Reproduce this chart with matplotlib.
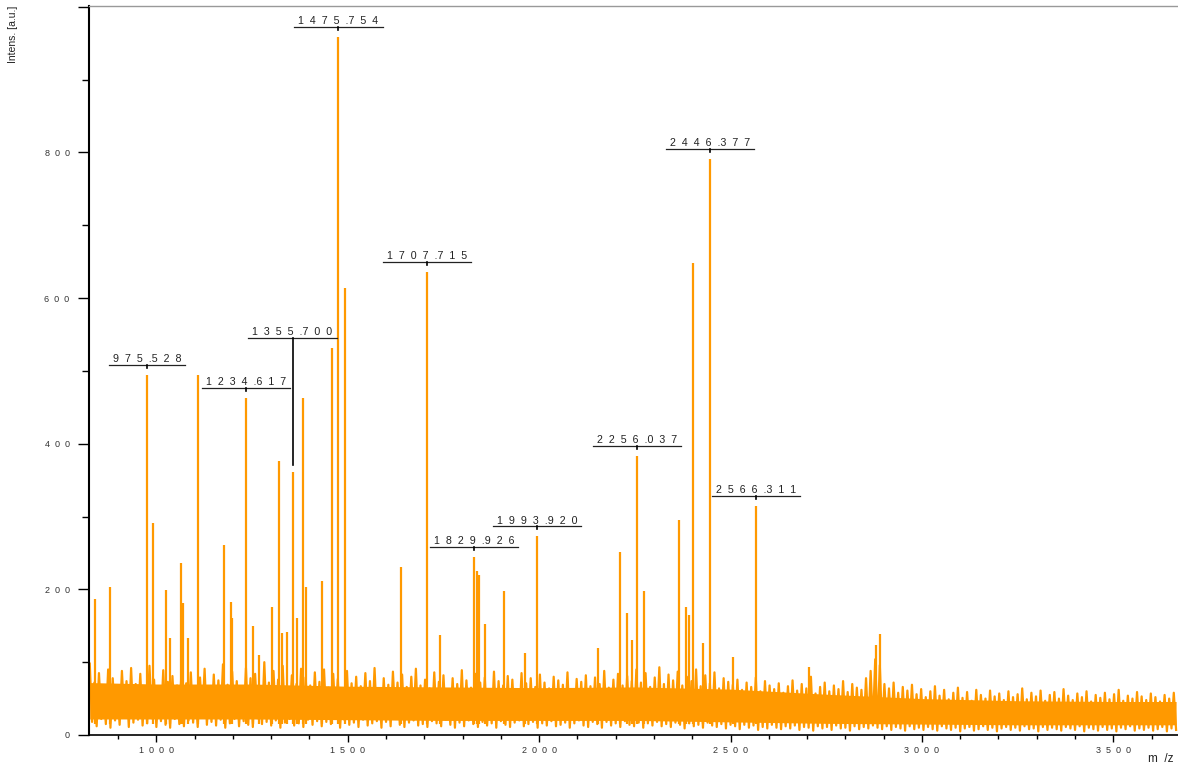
import numpy as np
import matplotlib.pyplot as plt
from matplotlib.ticker import MultipleLocator, FuncFormatter

plt.rcParams['font.family'] = ['Liberation Sans', 'DejaVu Sans']

# peaks (m/z, intensity in a.u.)
peak_mz = [840, 879, 975.528, 991, 1025, 1036, 1064, 1070, 1083, 1109,
           1177, 1195, 1198, 1234.617, 1252, 1268, 1302, 1320, 1328, 1341, 1355.700,
           1367, 1383, 1391, 1433, 1459, 1475.754, 1493, 1639, 1707.715, 1741,
           1829.926, 1838, 1843, 1858, 1908, 1963, 1993.920, 2154, 2211, 2229,
           2243, 2256.037, 2274, 2365, 2384, 2391, 2402, 2428, 2446.377, 2506,
           2566.311, 2705, 2880, 2890]
peak_int = [187, 203, 495, 291, 199, 133, 236, 181, 133, 495,
            261, 183, 161, 463, 149, 110, 176, 376, 140, 141, 361,
            161, 463, 203, 212, 532, 959, 614, 231, 636, 137,
            245, 225, 220, 153, 198, 112, 273, 119, 251, 167,
            130, 383, 198, 295, 176, 165, 648, 126, 791, 107,
            315, 94, 124, 139]

label_mz = [975.528, 1234.617, 1355.700, 1475.754, 1707.715,
            1829.926, 1993.920, 2256.037, 2446.377, 2566.311]
label_raised = {1355.700: 545}

# baseline noise: alternating local maxima / minima, every 12 m/z from 826
noise_start = 826
noise_step = 12
noise_top = [98, 72, 85, 64, 90, 78, 60, 88, 74, 92,
             70, 84, 66, 95, 76, 62, 89, 73, 81, 68,
             94, 71, 86, 63, 79, 91, 67, 83, 75, 97,
             69, 87, 74, 61, 92, 78, 84, 66, 100, 72,
             88, 76, 95, 64, 82, 70, 91, 79, 68, 86,
             73, 90, 65, 84, 77, 62, 88, 71, 80, 67,
             85, 74, 92, 63, 78, 69, 87, 72, 83, 66,
             80, 91, 68, 76, 64, 86, 73, 82, 61, 78,
             70, 89, 75, 65, 84, 72, 79, 62, 87, 74,
             68, 81, 76, 63, 85, 71, 78, 66, 83, 72,
             64, 80, 75, 69, 86, 62, 77, 73, 82, 67,
             79, 70, 88, 65, 76, 84, 68, 81, 74, 90,
             72, 85, 66, 79, 93, 70, 83, 75, 87, 68,
             80, 74, 90, 67, 82, 71, 86, 64, 78, 73,
             69, 76, 62, 72, 66, 79, 60, 74, 68, 63,
             71, 58, 67, 75, 61, 70, 64, 80, 57, 66,
             72, 60, 68, 63, 74, 59, 70, 65, 62, 78,
             88, 104, 96, 70, 64, 72, 58, 66, 61, 69,
             56, 63, 52, 60, 67, 54, 62, 49, 58, 65,
             51, 59, 47, 62, 55, 50, 61, 53, 57, 48,
             60, 52, 56, 64, 49, 58, 53, 61, 47, 55,
             59, 50, 63, 54, 48, 57, 52, 60, 46, 55,
             51, 58, 49, 56, 62, 47, 54, 50, 59, 53,
             48, 57, 52, 46, 55, 50, 58]
noise_bottom = [18, 12, 22, 15, 10, 20, 14, 24, 11, 17,
                21, 13, 16, 23, 11, 19, 14, 10, 22, 15,
                12, 20, 17, 11, 24, 14, 18, 13, 21, 10,
                16, 22, 12, 19, 14, 11, 23, 15, 18, 13,
                20, 10, 17, 22, 13, 16, 11, 21, 14, 19,
                12, 18, 15, 23, 10, 20, 14, 17, 11, 21,
                13, 16, 19, 10, 18, 12, 22, 14, 11, 17,
                20, 13, 15, 11, 19, 16, 12, 21, 14, 10,
                17, 12, 20, 15, 11, 18, 13, 16, 10, 19,
                14, 11, 17, 20, 12, 15, 18, 10, 16, 13,
                19, 12, 14, 17, 10, 16, 20, 13, 11, 18,
                15, 10, 18, 13, 16, 11, 19, 14, 12, 17,
                10, 16, 13, 18, 12, 15, 11, 17, 14, 9,
                16, 12, 14, 10, 17, 13, 11, 15, 9, 14,
                12, 8, 14, 10, 13, 7, 11, 9, 14, 10,
                8, 12, 9, 13, 7, 11, 10, 6, 12, 9,
                11, 7, 13, 9, 10, 6, 12, 8, 11, 9,
                13, 10, 8, 12, 7, 11, 9, 6, 12, 8,
                10, 7, 11, 8, 6, 12, 9, 7, 10, 5,
                9, 11, 6, 8, 12, 7, 10, 5, 9, 11,
                7, 10, 6, 12, 8, 9, 5, 11, 7, 10,
                8, 6, 11, 9, 7, 12, 5, 10, 8, 6,
                11, 7, 9, 5, 10, 8, 12, 6, 9, 7,
                10, 6, 8, 11, 5, 9, 7]

# solid core of the noise band (where the trace overlaps completely)
core_mz = [826, 1000, 1250, 1500, 1750, 2000, 2250, 2500, 2750, 3000, 3250, 3500, 3664]
core_lo = [22, 22, 22, 21, 20, 20, 20, 18, 16, 15, 14, 14, 14]
core_hi = [72, 70, 70, 67, 66, 65, 66, 63, 56, 50, 47, 46, 46]

orange = '#ff9900'


def spaced(v):
    return '  '.join(v).replace('  .  ', '  .')


fig = plt.figure(figsize=(11.78, 7.67), dpi=100)
ax = fig.add_axes([89 / 1178, 32 / 767, 1089 / 1178, 729 / 767])

n = len(noise_top)
top_x = noise_start + noise_step * np.arange(n)
xs = np.empty(2 * n)
ys = np.empty(2 * n)
xs[0::2] = top_x
xs[1::2] = top_x + noise_step / 2
ys[0::2] = noise_top
ys[1::2] = noise_bottom
ax.fill_between(core_mz, core_lo, core_hi, color=orange, lw=0)
ax.plot(xs, ys, color=orange, lw=1.6)
ax.vlines(peak_mz, 15, peak_int, color=orange, lw=1.6)

ax.set_xlim(824, 3669)
ax.set_ylim(0, 1001)

ax.xaxis.set_major_locator(MultipleLocator(500))
ax.xaxis.set_minor_locator(MultipleLocator(100))
ax.yaxis.set_major_locator(MultipleLocator(200))
ax.yaxis.set_minor_locator(MultipleLocator(100))
ax.xaxis.set_major_formatter(FuncFormatter(lambda v, p: spaced(str(int(round(v))))))
ax.yaxis.set_major_formatter(FuncFormatter(lambda v, p: '' if v >= 1000 else spaced(str(int(round(v))))))

ax.tick_params(axis='y', which='major', length=8, width=1, pad=6, labelsize=6.5, labelcolor='#333333')
ax.tick_params(axis='y', which='minor', length=5, width=1)
ax.tick_params(axis='x', which='major', length=5, width=1, pad=3, labelsize=6.5, labelcolor='#333333')
ax.tick_params(axis='x', which='minor', length=3, width=1)

ax.spines['right'].set_visible(False)
ax.spines['left'].set_linewidth(1.5)
ax.spines['bottom'].set_linewidth(1.2)
ax.spines['top'].set_linewidth(1.0)
ax.spines['top'].set_color('#999999')

# peak labels with underline
fig.canvas.draw()
renderer = fig.canvas.get_renderer()
inv = ax.transData.inverted()
for mz in label_mz:
    pk = peak_int[peak_mz.index(mz)]
    yl = label_raised.get(mz, pk + 13.5)
    t = ax.annotate(spaced(f'{mz:.3f}'), (mz, yl), xytext=(0, 2), textcoords='offset points',
                    ha='center', va='baseline', fontsize=7.7, color='#222222')
    bb = t.get_window_extent(renderer)
    x0 = inv.transform((bb.x0 - 4, 0))[0]
    x1 = inv.transform((bb.x1 + 4, 0))[0]
    ax.plot([x0, x1], [yl, yl], color='#222222', lw=0.9)
    if mz in label_raised:
        ax.plot([mz, mz], [yl, pk + 10], color='black', lw=1.2)
    else:
        ax.plot([mz, mz], [yl, yl - 4], color='black', lw=1.2)

fig.text(13 / 1178, 1 - 6 / 767, 'Intens. [a.u.]', rotation=90, ha='center', va='top',
         fontsize=7.5, color='#222222')
fig.text(1173 / 1178, 8 / 767, 'm  /z', ha='right', va='center', fontsize=8.5, color='#222222')

fig.savefig('out.png', dpi=100)
